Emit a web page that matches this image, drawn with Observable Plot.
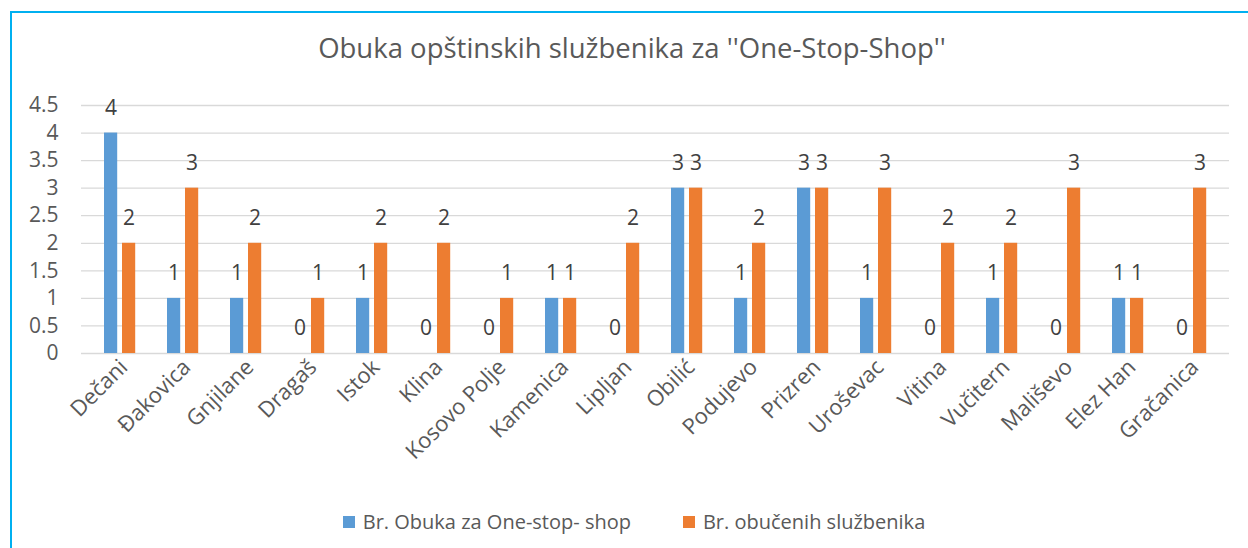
<!DOCTYPE html>
<html>
<head>
<meta charset="utf-8">
<script src="https://cdn.jsdelivr.net/npm/d3@7"></script>
<script src="https://cdn.jsdelivr.net/npm/@observablehq/plot@0.6"></script>
<style>
  body { margin: 0; background: #fff; font-family: "Open Sans", sans-serif; color: #595959; }
  #wrap { position: relative; width: 1248px; height: 548px; overflow: hidden; }
  #frame { position: absolute; left: 10px; top: 11px; width: 1300px; height: 600px;
           border-left: 2px solid #00b0f0; border-top: 2px solid #00b0f0; pointer-events: none; }
  #title { height: 85px; box-sizing: border-box; padding-top: 33px; padding-left: 16px;
           text-align: center; font-size: 27.5px; line-height: 30px; white-space: nowrap; }
  #chart svg { display: block; }
  #legend { height: 63px; box-sizing: border-box; padding-top: 11px; display: flex;
            justify-content: center; font-size: 20px; line-height: 22px; padding-left: 20px; }
  .item { display: flex; align-items: center; margin: 0 26px; }
  .sw { width: 12px; height: 12px; margin-right: 8px; }
</style>
</head>
<body>
<div id="wrap">
  <div id="frame"></div>
  <div id="title"></div>
  <div id="chart"></div>
  <div id="legend"></div>
</div>
<script>
const title = "Obuka opštinskih službenika za ''One-Stop-Shop''";
const categories = ["Dečani", "Đakovica", "Gnjilane", "Dragaš", "Istok", "Klina", "Kosovo Polje", "Kamenica", "Lipljan", "Obilić", "Podujevo", "Prizren", "Uroševac", "Vitina", "Vučitern", "Mališevo", "Elez Han", "Gračanica"];
const seriesNames = ["Br. Obuka za One-stop- shop", "Br. obučenih službenika"];
const obuke = [4, 1, 1, 0, 1, 0, 0, 1, 0, 3, 1, 3, 1, 0, 1, 0, 1, 0];
const obuceni = [2, 3, 2, 1, 2, 2, 1, 1, 2, 3, 2, 3, 3, 2, 2, 3, 1, 3];
const yTicks = [0, 0.5, 1, 1.5, 2, 2.5, 3, 3.5, 4, 4.5];
const colors = ["#5b9bd5", "#ed7d31"];

const rows = categories.map((c, i) => ({cat: c, a: obuke[i], b: obuceni[i]}));

document.getElementById("title").textContent = title;

const plot = Plot.plot({
  width: 1248,
  height: 400,
  marginTop: 20,
  marginBottom: 132,
  marginLeft: 81,
  marginRight: 19,
  style: {fontFamily: "'Open Sans', sans-serif", fontSize: "22px", color: "#595959", background: "#fff"},
  x: {domain: categories, padding: 0},
  y: {domain: [0, 4.5]},
  marks: [
    Plot.ruleY(yTicks, {stroke: "#d9d9d9", strokeWidth: 1.3}),
    Plot.axisX({tickRotate: -45, tickSize: 0, tickPadding: 10, dx: 4, fontSize: 22, label: null, fill: "#595959"}),
    Plot.axisY({ticks: yTicks, tickFormat: d => String(d), tickSize: 0, tickPadding: 23, fontSize: 21, label: null, fill: "#595959"}),
    Plot.barY(rows, {x: "cat", y: "a", fill: colors[0], insetLeft: 16, insetRight: 33.8}),
    Plot.barY(rows, {x: "cat", y: "b", fill: colors[1], insetLeft: 34, insetRight: 15.8}),
    Plot.text(rows, {x: "cat", y: "a", text: d => String(d.a), dx: -9, dy: -25, fontSize: 21, fill: "#404040"}),
    Plot.text(rows, {x: "cat", y: "b", text: d => String(d.b), dx: 9, dy: -25, fontSize: 21, fill: "#404040"})
  ]
});
document.getElementById("chart").appendChild(plot);

const legend = document.getElementById("legend");
seriesNames.forEach((n, i) => {
  const it = document.createElement("div");
  it.className = "item";
  const sw = document.createElement("div");
  sw.className = "sw";
  sw.style.background = colors[i];
  const t = document.createElement("span");
  t.textContent = n;
  it.appendChild(sw);
  it.appendChild(t);
  legend.appendChild(it);
});
</script>
</body>
</html>
